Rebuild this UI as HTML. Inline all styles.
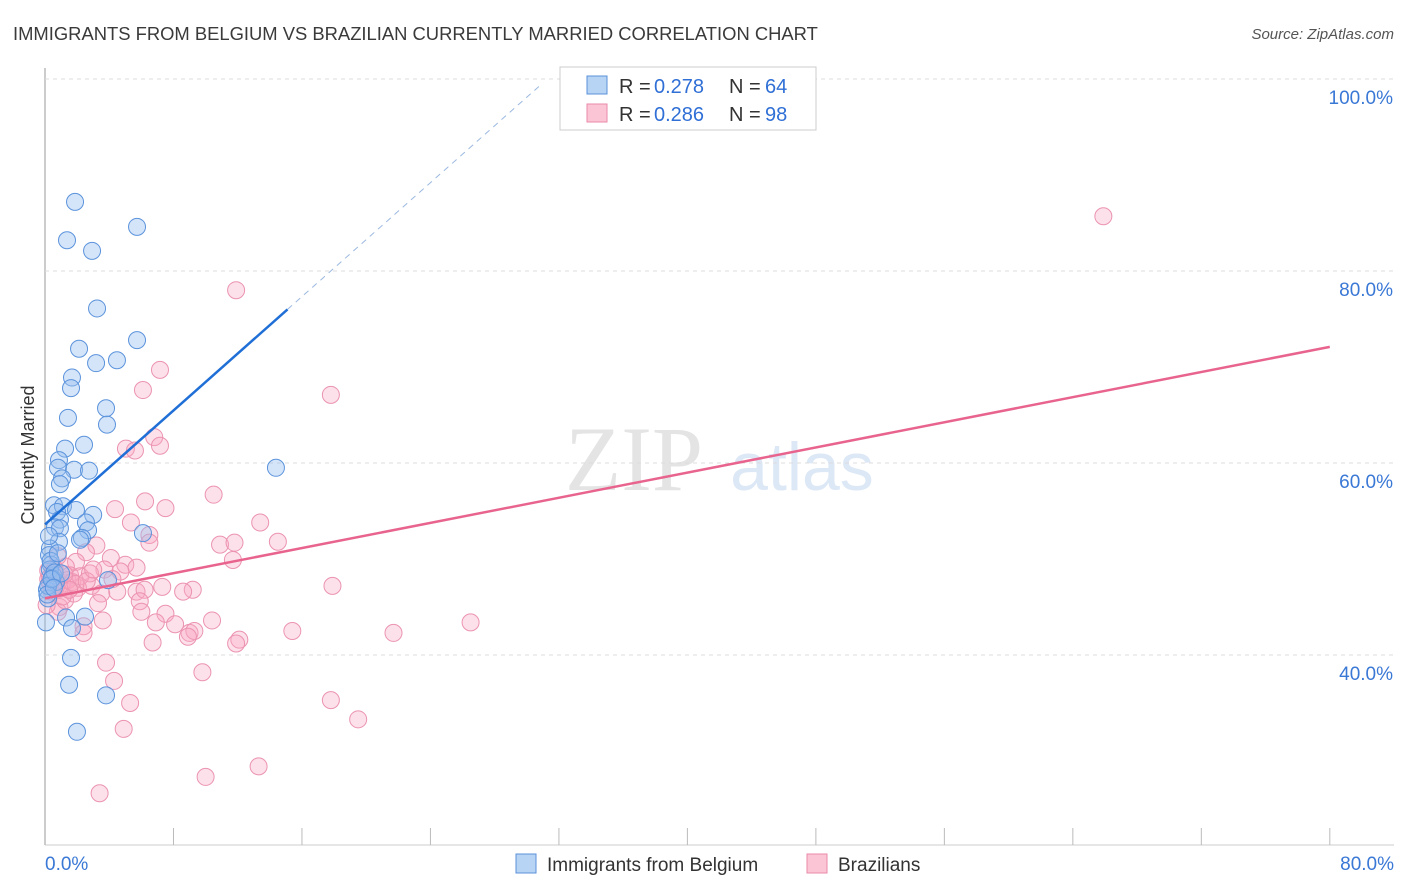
<!DOCTYPE html>
<html><head><meta charset="utf-8"><style>
body{margin:0;background:#fff;font-family:"Liberation Sans",sans-serif;}
</style></head><body>
<svg id="chart" width="1406" height="892" style="position:absolute;left:0;top:0">
<text x="13" y="40" font-size="18.4" fill="#3a3a3a">IMMIGRANTS FROM BELGIUM VS BRAZILIAN CURRENTLY MARRIED CORRELATION CHART</text>
<text x="1394" y="39" font-size="15" fill="#555" font-style="italic" text-anchor="end">Source: ZipAtlas.com</text>
<text x="34" y="455" font-size="18" fill="#333" text-anchor="middle" transform="rotate(-90 34 455)">Currently Married</text>
<g><text x="634" y="490" font-size="92" fill="#e4e4e4" font-family="Liberation Serif,serif" text-anchor="middle">ZIP</text><text x="802" y="490" font-size="68" fill="#dde8f6" text-anchor="middle">atlas</text></g>
<g id="grid"></g><g id="pts"></g><g id="lines"></g>
<g>
<rect x="560" y="67" width="256" height="63" fill="#fff" stroke="#ccc"/>
<rect x="587" y="76" width="20" height="18" fill="#b8d4f5" stroke="#5a90d8"/>
<rect x="587" y="104" width="20" height="18" fill="#fbc5d5" stroke="#e88aa8"/>
<text y="93" font-size="20" fill="#333"><tspan x="619">R = </tspan><tspan x="654" fill="#2f6fd6">0.278</tspan><tspan x="729">N = </tspan><tspan x="765" fill="#2f6fd6">64</tspan></text>
<text y="121" font-size="20" fill="#333"><tspan x="619">R = </tspan><tspan x="654" fill="#2f6fd6">0.286</tspan><tspan x="729">N = </tspan><tspan x="765" fill="#2f6fd6">98</tspan></text>
</g>
<g>
<rect x="516" y="854" width="20" height="19" fill="#b8d4f5" stroke="#5a90d8"/>
<text x="547" y="871" font-size="19" fill="#333">Immigrants from Belgium</text>
<rect x="807" y="854" width="20" height="19" fill="#fbc5d5" stroke="#e88aa8"/>
<text x="838" y="871" font-size="19" fill="#333">Brazilians</text>
</g>
</svg>
<script>
const xTicks=[0,8,16,24,32,40,48,56,64,72,80];
const yTicks=[40,60,80,100];
const yTickLabels=["40.0%","60.0%","80.0%","100.0%"];
const belgiumX=[1.87,5.73,1.37,2.93,3.24,5.73,2.12,4.48,3.18,1.68,1.62,3.8,1.43,3.86,2.43,1.25,0.87,0.81,1.81,2.74,14.38,1.06,0.93,0.56,1.12,0.75,1.93,3.0,0.93,2.55,0.62,0.93,2.68,6.1,2.3,2.18,0.87,0.31,0.25,0.37,0.5,0.68,3.92,0.12,0.19,1.31,2.49,1.68,0.06,1.62,1.5,3.8,1.99,0.3,0.45,0.2,0.35,0.6,0.15,0.8,0.4,0.25,1.0,0.55];
const belgiumY=[87.2,84.6,83.2,82.1,76.1,72.8,71.9,70.7,70.4,68.9,67.8,65.7,64.7,64.0,61.9,61.5,60.3,59.5,59.3,59.2,59.5,58.4,57.8,55.6,55.5,54.9,55.1,54.6,54.1,53.8,53.3,53.2,53.0,52.7,52.2,52.0,51.8,51.1,50.4,49.4,48.3,47.6,47.8,46.8,45.9,43.9,44.0,42.8,43.4,39.7,36.9,35.8,32.0,48.9,48.0,47.2,49.8,48.6,46.3,50.6,47.9,52.4,48.5,47.0];
const brazilX=[65.9,11.9,7.16,17.8,6.1,5.04,6.8,7.16,5.6,10.5,6.23,7.5,4.36,5.35,13.4,6.5,6.5,10.9,11.8,14.5,11.7,3.2,2.55,4.1,5.0,5.7,4.7,3.7,1.93,1.3,4.2,2.9,5.7,6.2,7.3,9.2,8.6,17.9,3.5,4.5,5.9,3.3,6.0,7.5,0.9,0.8,3.6,10.4,6.9,8.1,9.0,9.3,8.9,15.4,21.7,26.5,2.4,2.4,6.7,12.1,11.9,3.8,4.3,9.8,5.3,17.8,19.5,4.9,10.0,13.3,3.4,0.2,0.6,1.06,1.56,0.4,2.05,1.25,0.1,0.8,1.8,0.3,0.5,1.4,0.9,1.7,2.2,0.2,1.1,0.7,2.8,1.9,0.3,1.5,2.6,0.6,1.2,3.0];
const brazilY=[85.7,78.0,69.7,67.1,67.6,61.5,62.7,61.8,61.3,56.7,56.0,55.3,55.2,53.8,53.8,52.5,51.7,51.5,51.7,51.8,49.9,51.4,50.7,50.1,49.4,49.1,48.7,48.9,49.7,49.2,47.9,47.2,46.6,46.8,47.1,46.8,46.6,47.2,46.4,46.6,45.6,45.4,44.5,44.3,45.0,44.5,43.6,43.6,43.4,43.2,42.3,42.5,41.9,42.5,42.3,43.4,43.0,42.3,41.3,41.6,41.2,39.2,37.3,38.2,35.0,35.3,33.3,32.3,27.3,28.4,25.6,48.8,48.0,47.3,48.3,46.6,47.0,45.7,45.2,50.3,46.4,47.5,48.6,47.8,46.9,47.6,48.2,47.9,46.1,47.2,48.5,47.4,48.1,46.8,47.7,49.0,48.4,48.9];
const belgiumTrend=[53.6,76.0,15.1];
const brazilTrend=[45.9,72.1,80];
const sx=v=>45+v*16.06, sy=v=>79+(100-v)*9.6;
const NS="http://www.w3.org/2000/svg";
function mk(t,a,p){const e=document.createElementNS(NS,t);for(const k in a)e.setAttribute(k,a[k]);p.appendChild(e);return e;}
const g=document.getElementById('grid');
const ax=mk('line',{x1:45,y1:68,x2:45,y2:845,stroke:'#bbb','stroke-width':1.5},g);

const xa=mk('line',{x1:45,y1:845,x2:1394,y2:845,stroke:'#ccc'},g);

yTicks.forEach((v,i)=>{const l=mk('line',{x1:45,x2:1394,y1:sy(v),y2:sy(v),stroke:'#ddd','stroke-dasharray':'4,4'},g);

const t=mk('text',{x:1393,y:sy(v)+25,'font-size':19,fill:'#3a78d6','text-anchor':'end'},g);t.textContent=yTickLabels[i];
});
xTicks.forEach(v=>{const l=mk('line',{x1:sx(v),x2:sx(v),y1:828,y2:845,stroke:'#bbb'},g);
});
[[0,"0.0%",'start',45],[80,"80.0%",'end',1394]].forEach(a=>{const t=mk('text',{x:a[3],y:870,'font-size':19,fill:'#3a78d6','text-anchor':a[2]},g);t.textContent=a[1];
});
const p=document.getElementById('pts');
brazilX.forEach((x,i)=>{const c=mk('circle',{cx:sx(x),cy:sy(brazilY[i]),r:8.5,fill:'rgba(248,170,195,0.35)',stroke:'#eb93b0','stroke-width':1},p);
});
belgiumX.forEach((x,i)=>{const c=mk('circle',{cx:sx(x),cy:sy(belgiumY[i]),r:8.5,fill:'rgba(150,190,240,0.4)',stroke:'#5b93dc','stroke-width':1},p);
});
const L=document.getElementById('lines');
const bs=(belgiumTrend[1]-belgiumTrend[0])/belgiumTrend[2];
const d1=mk('line',{x1:sx(belgiumTrend[2]),y1:sy(belgiumTrend[1]),x2:sx(30.8),y2:sy(belgiumTrend[0]+bs*30.8),stroke:'#9bb8e0','stroke-width':1,'stroke-dasharray':'6,5'},L);

const l1=mk('line',{x1:sx(0),y1:sy(belgiumTrend[0]),x2:sx(belgiumTrend[2]),y2:sy(belgiumTrend[1]),stroke:'#1f6fd6','stroke-width':2.5},L);

const l2=mk('line',{x1:sx(0),y1:sy(brazilTrend[0]),x2:sx(brazilTrend[2]),y2:sy(brazilTrend[1]),stroke:'#e8648e','stroke-width':2.5},L);

</script>
</body></html>
